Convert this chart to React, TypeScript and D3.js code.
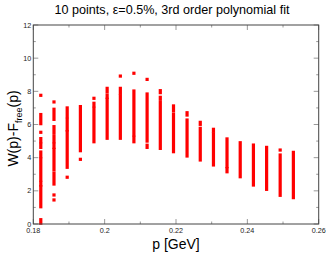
import * as d3 from 'd3';

// column momenta (GeV)
const P_VALUES = [
  0.1821, 0.1858, 0.1895, 0.1932, 0.1970, 0.2007, 0.2044, 0.2082, 0.2119, 0.2156,
  0.2193, 0.2231, 0.2268, 0.2305, 0.2343, 0.2380, 0.2417, 0.2454, 0.2492, 0.2529,
];

// each column: runs of stacked points [low, high]; a lone point has low == high
const COLUMN_RUNS: [number, number][][] = [
  [[7.76, 7.76], [6.05, 6.6], [5.53, 5.53], [4.96, 5.15], [4.62, 4.82], [4.06, 4.34], [2.65, 3.92], [2.35, 2.51], [1.04, 2.25], [0.05, 0.26]],
  [[7.36, 7.36], [6.31, 6.92], [5.47, 5.87], [4.96, 5.27], [4.62, 4.82], [3.26, 4.5], [2.41, 3.06], [1.75, 1.75], [1.45, 1.45]],
  [[6.47, 7.0], [5.67, 6.31], [3.42, 5.57], [2.82, 2.82]],
  [[4.42, 7.08], [3.9, 3.9]],
  [[7.58, 7.58], [7.12, 7.28], [4.96, 6.98]],
  [[7.98, 8.18], [7.64, 7.78], [5.17, 7.52]],
  [[8.92, 8.92], [7.88, 8.18], [5.17, 7.72]],
  [[9.09, 9.09], [5.37, 8.02], [4.96, 5.23]],
  [[8.72, 8.72], [5.0, 7.84], [4.62, 4.75]],
  [[7.92, 8.04], [7.52, 7.64], [4.56, 7.32]],
  [[6.83, 7.12], [4.36, 6.63]],
  [[6.57, 6.71], [4.1, 6.27]],
  [[6.01, 6.13], [3.86, 5.77]],
  [[5.59, 5.71], [3.56, 5.43]],
  [[3.46, 5.13], [3.15, 3.34]],
  [[2.85, 4.9]],
  [[2.35, 4.76]],
  [[2.09, 4.62]],
  [[4.46, 4.46], [1.73, 4.16]],
  [[1.59, 4.32]],
];

const X_TICKS = [0.18, 0.2, 0.22, 0.24, 0.26];
const X_TICK_LABELS = ['0.18', '0.2', '0.22', '0.24', '0.26'];
const X_MINOR = [0.19, 0.21, 0.23, 0.25];
const Y_TICKS = [0, 2, 4, 6, 8, 10, 12];
const Y_MINOR = [1, 3, 5, 7, 9, 11];

const W = 327;
const H = 253;
const M = { left: 33.3, right: 318.7, top: 25, bottom: 224 };
const FONT = '"Liberation Sans", Arial, sans-serif';
const MARK = 3.2;

export default function App() {
  const x = d3.scaleLinear().domain([0.18, 0.26]).range([M.left, M.right]);
  const y = d3.scaleLinear().domain([0, 12]).range([M.bottom, M.top]);

  return (
    <div style={{ position: 'fixed', left: 0, top: 0 }}>
      <svg width={W} height={H} style={{ display: 'block', background: '#fff' }}>
        {/* title */}
        <text x={172} y={14} textAnchor="middle" fontFamily={FONT} fontSize={12.6} fill="#000">
          10 points, ε=0.5%, 3rd order polynomial fit
        </text>

        {/* points */}
        {COLUMN_RUNS.map((runs, i) =>
          runs.map(([lo, hi], j) => (
            <rect
              key={`${i}-${j}`}
              x={x(P_VALUES[i]) - MARK / 2}
              y={y(hi) - MARK / 2}
              width={MARK}
              height={y(lo) - y(hi) + MARK}
              fill="#ff0000"
            />
          )),
        )}

        {/* ticks, mirrored on all sides */}
        <g stroke="#999" strokeWidth={1}>
          {X_TICKS.map((t) => (
            <g key={t}>
              <line x1={x(t)} x2={x(t)} y1={M.bottom} y2={M.bottom - 5} />
              <line x1={x(t)} x2={x(t)} y1={M.top} y2={M.top + 5} />
            </g>
          ))}
          {X_MINOR.map((t) => (
            <g key={t}>
              <line x1={x(t)} x2={x(t)} y1={M.bottom} y2={M.bottom - 2.5} />
              <line x1={x(t)} x2={x(t)} y1={M.top} y2={M.top + 2.5} />
            </g>
          ))}
          {Y_TICKS.map((t) => (
            <g key={t}>
              <line x1={M.left} x2={M.left + 5} y1={y(t)} y2={y(t)} />
              <line x1={M.right} x2={M.right - 5} y1={y(t)} y2={y(t)} />
            </g>
          ))}
          {Y_MINOR.map((t) => (
            <g key={t}>
              <line x1={M.left} x2={M.left + 2.5} y1={y(t)} y2={y(t)} />
              <line x1={M.right} x2={M.right - 2.5} y1={y(t)} y2={y(t)} />
            </g>
          ))}
        </g>

        {/* frame */}
        <rect
          x={M.left}
          y={M.top}
          width={M.right - M.left}
          height={M.bottom - M.top}
          fill="none"
          stroke="#444"
          strokeWidth={1}
        />

        {/* tick labels */}
        <g fontFamily={FONT} fontSize={7.2} fill="#222">
          {X_TICKS.map((t, i) => (
            <text key={t} x={x(t)} y={M.bottom + 8.5} textAnchor="middle">
              {X_TICK_LABELS[i]}
            </text>
          ))}
          {Y_TICKS.map((t) => (
            <text key={t} x={M.left - 2} y={y(t) + 2.5} textAnchor="end">
              {t}
            </text>
          ))}
        </g>

        {/* axis labels */}
        <text x={176} y={249} textAnchor="middle" fontFamily={FONT} fontSize={14} fill="#000">
          p [GeV]
        </text>
        <text
          transform={`translate(18, ${(M.top + M.bottom) / 2 + 4}) rotate(-90)`}
          textAnchor="middle"
          fontFamily={FONT}
          fontSize={14}
          fill="#000"
        >
          W(p)-F
          <tspan fontSize={9} dy={4}>free</tspan>
          <tspan dy={-4}>(p)</tspan>
        </text>
      </svg>
    </div>
  );
}
